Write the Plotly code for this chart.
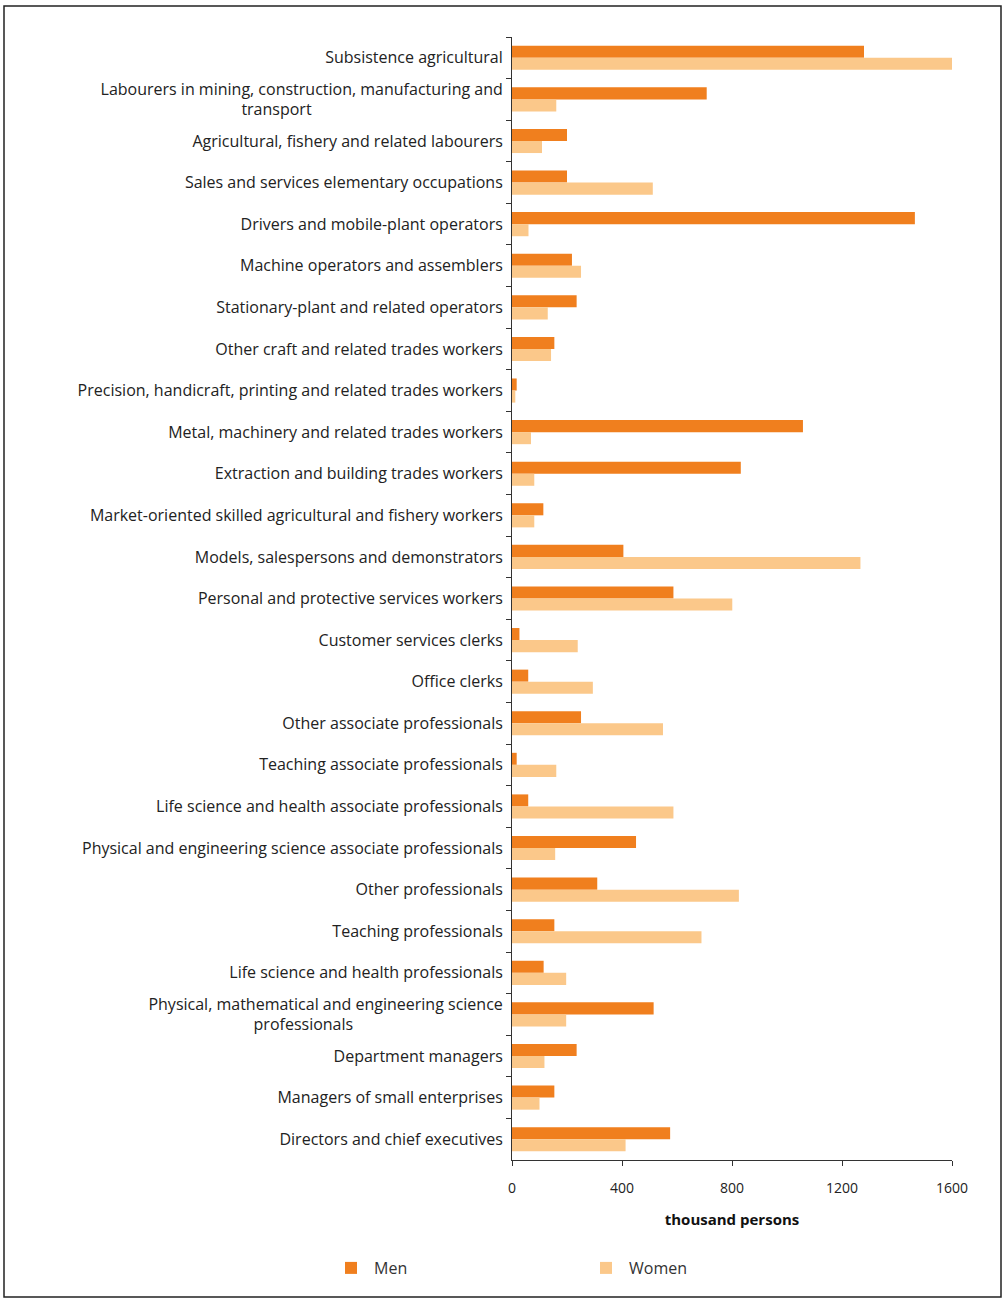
import plotly.graph_objects as go

categories = [
    "Subsistence agricultural",
    "Labourers in mining, construction, manufacturing and<br>transport" + "\u00a0" * 46,
    "Agricultural, fishery and related labourers",
    "Sales and services elementary occupations",
    "Drivers and mobile-plant operators",
    "Machine operators and assemblers",
    "Stationary-plant and related operators",
    "Other craft and related trades workers",
    "Precision, handicraft, printing and related trades workers",
    "Metal, machinery and related trades workers",
    "Extraction and building trades workers",
    "Market-oriented skilled agricultural and fishery workers",
    "Models, salespersons and demonstrators",
    "Personal and protective services workers",
    "Customer services clerks",
    "Office clerks",
    "Other associate professionals",
    "Teaching associate professionals",
    "Life science and health associate professionals",
    "Physical and engineering science associate professionals",
    "Other professionals",
    "Teaching professionals",
    "Life science and health professionals",
    "Physical, mathematical and engineering science<br>professionals" + "\u00a0" * 36,
    "Department managers",
    "Managers of small enterprises",
    "Directors and chief executives",
]

men = [1280, 708, 200, 200, 1465, 218, 235, 154, 17, 1058,
       832, 114, 405, 587, 27, 59, 251, 17, 59, 451,
       310, 154, 115, 515, 235, 154, 575]
women = [1605, 161, 109, 512, 60, 251, 130, 142, 12, 69,
         81, 81, 1267, 801, 239, 294, 549, 161, 587, 157,
         825, 689, 197, 197, 118, 100, 413]

x_ticks = [0, 400, 800, 1200, 1600]
x_title = "thousand persons"

FONT = "'Open Sans', Lato, sans-serif"
MEN_COLOR = "#F07F1E"
WOMEN_COLOR = "#FBC88A"

fig = go.Figure()
fig.add_trace(go.Bar(y=categories, x=men, name="Men", orientation="h",
                     marker=dict(color=MEN_COLOR, line=dict(width=0))))
fig.add_trace(go.Bar(y=categories, x=women, name="Women", orientation="h",
                     marker=dict(color=WOMEN_COLOR, line=dict(width=0))))

W, H = 1007, 1302
L, R, T, B = 512, 55, 37, 142
pw, ph = W - L - R, H - T - B

def px_x(p):
    return (p - L) / pw

def px_y(p):
    return (H - B - p) / ph

fig.update_layout(
    width=W, height=H,
    margin=dict(l=L, r=R, t=T, b=B, pad=0),
    barmode="group", bargap=0.42, bargroupgap=0,
    paper_bgcolor="white", plot_bgcolor="white",
    font=dict(family=FONT, size=16, color="#222222"),
    showlegend=True,
    legend=dict(orientation="h", x=px_x(328), y=px_y(1251), xanchor="left", yanchor="top",
                entrywidth=204, entrywidthmode="pixels", traceorder="normal",
                font=dict(size=16, color="#333333"), itemwidth=36),
    xaxis=dict(range=[0, 1600], tickvals=x_ticks, ticktext=[str(v) for v in x_ticks],
               showgrid=False, zeroline=False, showline=True, linecolor="#333333", linewidth=1,
               ticks="outside", ticklen=5, tickcolor="#333333", ticklabelstandoff=10,
               tickfont=dict(size=14, color="#222222"),
               title=dict(text="<b>" + x_title + "</b>", font=dict(size=15, color="#111111"), standoff=18)),
    yaxis=dict(autorange="reversed", showgrid=False, zeroline=False, showline=True,
               linecolor="#333333", linewidth=1, ticks="outside", tickson="boundaries",
               ticklen=5, tickcolor="#333333", ticklabelstandoff=5,
               tickfont=dict(size=16, color="#222222")),
    shapes=[dict(type="rect", xref="paper", yref="paper",
                 x0=px_x(4), x1=px_x(1001), y0=px_y(1297), y1=px_y(6),
                 line=dict(color="#222222", width=1.5), fillcolor="rgba(0,0,0,0)", layer="below")],
)

fig.write_html("out.html", config={"displayModeBar": False},
               post_script="document.body.style.margin='0';")
